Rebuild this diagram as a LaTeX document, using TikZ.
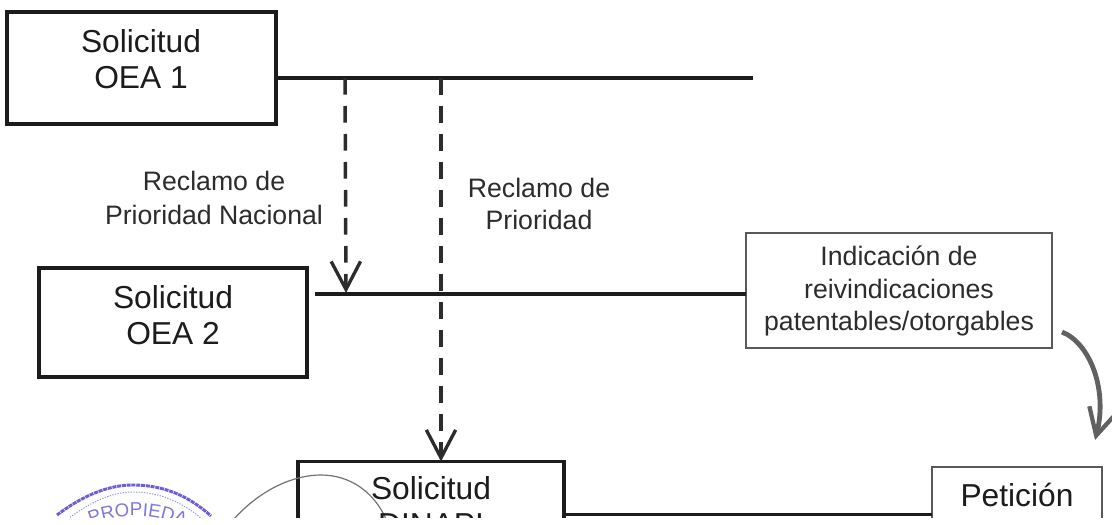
\documentclass[tikz,border=0pt]{standalone}
\usepackage{fontspec}
\setmainfont{Liberation Sans}
\usetikzlibrary{arrows.meta,decorations.text}
\definecolor{ink}{HTML}{1C1C1C}
\definecolor{softink}{HTML}{2C2C2C}
\definecolor{stampblue}{HTML}{6A5FD8}
\tikzset{
  thickbox/.style={draw=ink,line width=2.7pt,inner sep=0pt,outer sep=0pt,fill=white},
  thinbox/.style={draw=black!65,line width=0.9pt,inner sep=0pt,outer sep=0pt,fill=white},
  biglabel/.style={font=\fontsize{23.8pt}{27.5pt}\selectfont,text=ink,align=center,inner sep=0pt},
  smalllabel/.style={font=\fontsize{20pt}{24pt}\selectfont,text=softink,align=center,inner sep=0pt},
  timeline/.style={draw=ink,line width=2.3pt},
  dashline/.style={draw=softink,line width=2.6pt,dash pattern=on 12.5pt off 8.5pt,
    -{Straight Barb[length=21pt,width=22pt,line width=2.5pt]}},
  graycurve/.style={draw=black!62,line width=3.6pt,
    -{Straight Barb[length=20pt,width=21pt,line width=3.2pt]}},
}
\begin{document}
\begin{tikzpicture}[x=0.75pt,y=-0.75pt]
\useasboundingbox[fill=white] (0,0) rectangle (1112,524);
\begin{scope}
\clip (0,0) rectangle (1112,517);
% boxes
\node[thickbox,minimum width=201.75pt,minimum height=84pt] (oea1) at (141.5,68) {};
\node[biglabel] (oea1t) at (141,59) {Solicitud\\OEA 1};
\node[thickbox,minimum width=201pt,minimum height=81.75pt] (oea2) at (173,322.5) {};
\node[biglabel] (oea2t) at (173,315) {Solicitud\\OEA 2};
\node[thinbox,minimum width=229.5pt,minimum height=86.25pt] (ind) at (899,290.5) {};
\node[smalllabel] (indt) at (899,291) {Indicación de\\[1pt]reivindicaciones\\patentables/otorgables};
% connectors
\coordinate (e1) at (753,78);
\coordinate (s2) at (315,294);
\coordinate (a1) at (345,78);
\coordinate (a2) at (441,78);
\coordinate (t1) at (346,293);
\draw[timeline] (oea1.east |- e1) -- (e1);
\draw[timeline] (s2) -- (s2 -| ind.west);
% DINAPI and Petición
\node[thickbox,minimum width=199.5pt,minimum height=105pt,anchor=north] (dinapi) at (431,461.5) {};
\node[thinbox,minimum width=127.5pt,minimum height=105pt,anchor=north] (pet) at (1017,467) {};
\coordinate (t2) at (dinapi.north -| a2);
\draw[dashline] (a1) -- (t1);
\draw[dashline] (a2) -- (t2);
\draw[timeline] (dinapi.east |- 0,514.5) -- (pet.west |- 0,514.5);
% curve
\coordinate (cs) at (1062,332);
\coordinate (ce) at (1095,440);
\draw[graycurve] (cs) .. controls (1090,343) and (1108,390) .. (ce);
% stamp and circle
\draw[black!55,line width=0.9pt] (234,519) .. controls (262,488) and (295,475) .. (321,475)
   .. controls (350,475) and (374,492) .. (386,519);
\node[biglabel] (dinapit) at (431,506) {Solicitud\\DINAPI};
\node[biglabel] (pett) at (1017,495) {Petición};
\node[smalllabel] (r1) at (214,198) {Reclamo de\\[2.2pt]Prioridad Nacional};
\node[smalllabel] (r2) at (539,203.5) {Reclamo de\\Prioridad};
\draw[stampblue,line width=2.2pt,dash pattern=on 3pt off 0.6pt] (57,515) .. controls (85,494) and (110,485) .. (133,485) .. controls (165,485) and (190,497) .. (211,516);
\draw[stampblue!70,line width=0.7pt,dash pattern=on 1pt off 1pt] (68,519) .. controls (90,502) and (112,492) .. (133,492) .. controls (160,492) and (182,502) .. (202,519);
\path[postaction={decorate},decoration={text along path,text align=center,
  text={|\fontsize{14pt}{14pt}\selectfont\color{stampblue!85}|PROPIEDA}}]
  (70,535) .. controls (95,520) and (115,516) .. (136,516) .. controls (157,516) and (180,522) .. (205,537);
\end{scope}
\end{tikzpicture}
\end{document}
